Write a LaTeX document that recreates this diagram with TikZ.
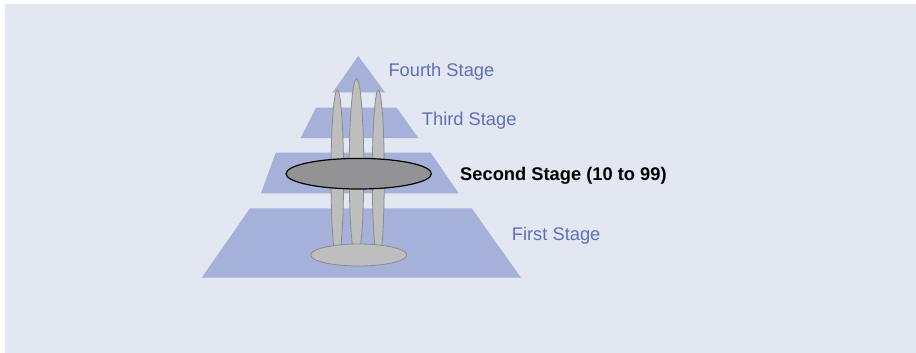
\documentclass[tikz,border=0pt]{standalone}
\usepackage{fontspec}
\setmainfont{Liberation Sans}
\definecolor{bgc}{RGB}{227,231,242}
\definecolor{pyr}{RGB}{165,177,217}
\definecolor{lbl}{RGB}{96,112,184}
\definecolor{lgray}{RGB}{190,190,190}
\definecolor{lgrayd}{RGB}{140,140,140}
\definecolor{dgray}{RGB}{147,147,149}
\tikzset{
  layer/.style={fill=pyr, draw=none},
  stalk/.style={fill=lgray, draw=lgrayd, line width=0.8pt},
  stagelbl/.style={text=lbl, font=\fontsize{18.3}{20}\selectfont, anchor=base west, inner sep=0pt},
  boldlbl/.style={text=black, font=\fontsize{18.3}{20}\selectfont\bfseries, anchor=base west, inner sep=0pt}
}
\begin{document}
\begin{tikzpicture}[x=1pt,y=-1pt]
\useasboundingbox (0,0) rectangle (916,353);
\fill[white] (0,0) rectangle (916,353);
\fill[bgc] (5,4) rectangle (916,353);
% pyramid layers
\fill[layer] (358.3,56) -- (385,92.3) -- (332.7,92.3) -- cycle;
\fill[layer] (316,107.7) -- (396.7,107.7) -- (418.3,138) -- (300.7,138) -- cycle;
\fill[layer] (275.7,152.7) -- (430.7,152.7) -- (458.7,193.3) -- (261,193.3) -- cycle;
\fill[layer] (250,208.3) -- (471.7,208.3) -- (521,277.7) -- (201.7,277.7) -- cycle;
% stalks
\draw[stalk] (337.3,176) ellipse [x radius=6.3, y radius=86];
\draw[stalk] (378.3,176) ellipse [x radius=6, y radius=86];
\draw[stalk] (356.5,170) ellipse [x radius=7.3, y radius=91.3];
% bottom ellipse
\draw[fill=lgray, draw=lgrayd, line width=0.8pt] (358.7,255) ellipse [x radius=48, y radius=11];
% second stage ellipse
\draw[fill=dgray, draw=black, line width=1.2pt] (358.7,173.7) ellipse [x radius=72.7, y radius=15.3];
% labels
\node[stagelbl] (l4) at (388.3,76.7) {Fourth Stage};
\node[stagelbl] (l3) at (421.7,125.7) {Third Stage};
\node[boldlbl] (l2) at (460,180) {Second Stage (10 to 99)};
\node[stagelbl] (l1) at (511.7,240.7) {First Stage};
\end{tikzpicture}
\end{document}
